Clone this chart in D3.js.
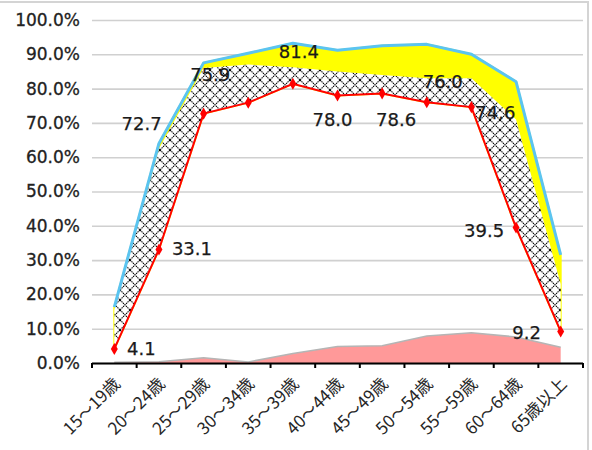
<!DOCTYPE html>
<html><head><meta charset="utf-8">
<script src="https://cdn.jsdelivr.net/npm/d3@7"></script>
<style>body{margin:0;background:#fff}svg{display:block}</style>
</head><body>
<svg id="c" width="592" height="450"></svg>
<script>
const categories = ["15～19歳","20～24歳","25～29歳","30～34歳","35～39歳","40～44歳","45～49歳","50～54歳","55～59歳","60～64歳","65歳以上"];
// red line (labelled values)
const redValues   = [4.1, 33.1, 72.7, 75.9, 81.4, 78.0, 78.6, 76.0, 74.6, 39.5, 9.2];
// top of hatched band
const hatchTop    = [15.5, 62.5, 86.0, 87.0, 86.2, 85.0, 84.0, 83.0, 83.0, 71.0, 23.0];
// blue line (top of yellow band)
const blueValues  = [16.3, 64.0, 87.5, 90.3, 93.2, 91.2, 92.5, 92.9, 90.0, 82.0, 31.5];
// pink area at the bottom
const pinkValues  = [0.2, 0.4, 1.5, 0.3, 2.8, 4.8, 5.0, 7.9, 8.8, 7.6, 4.6];
const yTicks = [0,10,20,30,40,50,60,70,80,90,100];
const labelPlacement = ["right","right","farleft","upleft","up","down","downright","upright","right","left","left"];

const svg = d3.select("#c");
const mLeft = 92, mRight = 583, mTop = 20, mBottom = 363;
const x = d3.scaleBand().domain(categories).range([mLeft, mRight]).padding(0);
const y = d3.scaleLinear().domain([0, 100]).range([mBottom, mTop]);
const cx = c => x(c) + x.bandwidth() / 2;

// frame
svg.append("rect").attr("x", -2).attr("y", 2).attr("width", 590).attr("height", 460)
  .attr("fill", "none").attr("stroke", "#d4d4d4").attr("stroke-width", 2);

// pattern
const defs = svg.append("defs");
const P = 10;
const pat = defs.append("pattern").attr("id", "hatch").attr("patternUnits", "userSpaceOnUse")
  .attr("width", P).attr("height", P);
pat.append("rect").attr("width", P).attr("height", P).attr("fill", "#fff");
pat.append("path").attr("d", `M0,0L${P},${P}M${P},0L0,${P}`)
  .attr("stroke", "#000").attr("stroke-width", 1.1).attr("stroke-dasharray", "1.4,0.7");

// y axis with grid
const yAxis = d3.axisLeft(y).tickValues(yTicks).tickSize(-(mRight - mLeft)).tickPadding(12)
  .tickFormat(d => d.toFixed(1) + "%");
const gy = svg.append("g").attr("transform", `translate(${mLeft},0)`).call(yAxis);
gy.select(".domain").remove();
gy.selectAll(".tick line").attr("stroke", "#d0d0d0").attr("stroke-width", 1.6);
gy.selectAll(".tick text").attr("font-family", "DejaVu Sans").attr("font-size", 17)
  .attr("fill", "#222").attr("stroke", "#222").attr("stroke-width", 0.3).attr("x", -12);

const idx = d3.range(categories.length);

// yellow band (R..B)
svg.append("path").datum(idx)
  .attr("d", d3.area().x(i => cx(categories[i])).y0(i => y(redValues[i])).y1(i => y(blueValues[i])))
  .attr("fill", "#ffff00").attr("stroke", "#ffff00").attr("stroke-width", 2);

// hatched band (R..H)
svg.append("path").datum(idx)
  .attr("d", d3.area().x(i => cx(categories[i])).y0(i => y(redValues[i])).y1(i => y(hatchTop[i])))
  .attr("fill", "url(#hatch)");

// pink area
svg.append("path").datum(idx)
  .attr("d", d3.area().x(i => cx(categories[i])).y0(y(0)).y1(i => y(pinkValues[i])))
  .attr("fill", "#ff9999");
svg.append("path").datum(idx)
  .attr("d", d3.line().x(i => cx(categories[i])).y(i => y(pinkValues[i])))
  .attr("fill", "none").attr("stroke", "#b5b5b5").attr("stroke-width", 1.5);

// blue line
svg.append("path").datum(idx)
  .attr("d", d3.line().x(i => cx(categories[i])).y(i => y(blueValues[i])))
  .attr("fill", "none").attr("stroke", "#5bc4f1").attr("stroke-width", 3).attr("stroke-linejoin", "round");

// red line
svg.append("path").datum(idx)
  .attr("d", d3.line().x(i => cx(categories[i])).y(i => y(redValues[i])))
  .attr("fill", "none").attr("stroke", "#ff0000").attr("stroke-width", 2);
svg.selectAll(".mk").data(idx).enter().append("path")
  .attr("transform", i => `translate(${cx(categories[i])},${y(redValues[i])})`)
  .attr("d", d3.symbol().type(d3.symbolDiamond).size(42)).attr("fill", "#ff0000");

// x axis
svg.append("line").attr("x1", mLeft).attr("x2", mRight).attr("y1", y(0) + 0.5).attr("y2", y(0) + 0.5)
  .attr("stroke", "#000").attr("stroke-width", 2);
const bounds = categories.map(c => x(c)).concat([mRight]);
svg.selectAll(".xt").data(bounds).enter().append("line")
  .attr("x1", d => d).attr("x2", d => d).attr("y1", y(0)).attr("y2", y(0) + 5)
  .attr("stroke", "#000").attr("stroke-width", 2);
svg.selectAll(".xl").data(categories).enter().append("text")
  .attr("transform", c => `translate(${cx(c) + 7},${y(0) + 22}) rotate(-45)`)
  .attr("text-anchor", "end").attr("font-family", "Noto Sans CJK JP").attr("font-size", 17)
  .attr("fill", "#262626").text(c => c);

// data labels
const off = {
  right: [33, 6], farleft: [-62, 16], upleft: [-38, -22], up: [6, -26], down: [-5, 31],
  downright: [14, 33], upright: [16, -14], left: [-32, 9]
};
svg.selectAll(".dl").data(idx).enter().append("text")
  .attr("x", i => {
    const p = labelPlacement[i]; let dx = off[p][0];
    if (i === 0) dx = 27; if (i === 10) dx = -34; if (i === 8) dx = 24;
    return cx(categories[i]) + dx;
  })
  .attr("y", i => {
    const p = labelPlacement[i]; let dy = off[p][1];
    if (i === 10) dy = 8; if (i === 8) dy = 12; if (i === 0) dy = 6;
    return y(redValues[i]) + dy;
  })
  .attr("text-anchor", "middle").attr("font-family", "DejaVu Sans").attr("font-size", 18)
  .attr("fill", "#1a1a1a").attr("stroke", "#1a1a1a").attr("stroke-width", 0.25)
  .text(i => redValues[i].toFixed(1));
</script>
</body></html>
